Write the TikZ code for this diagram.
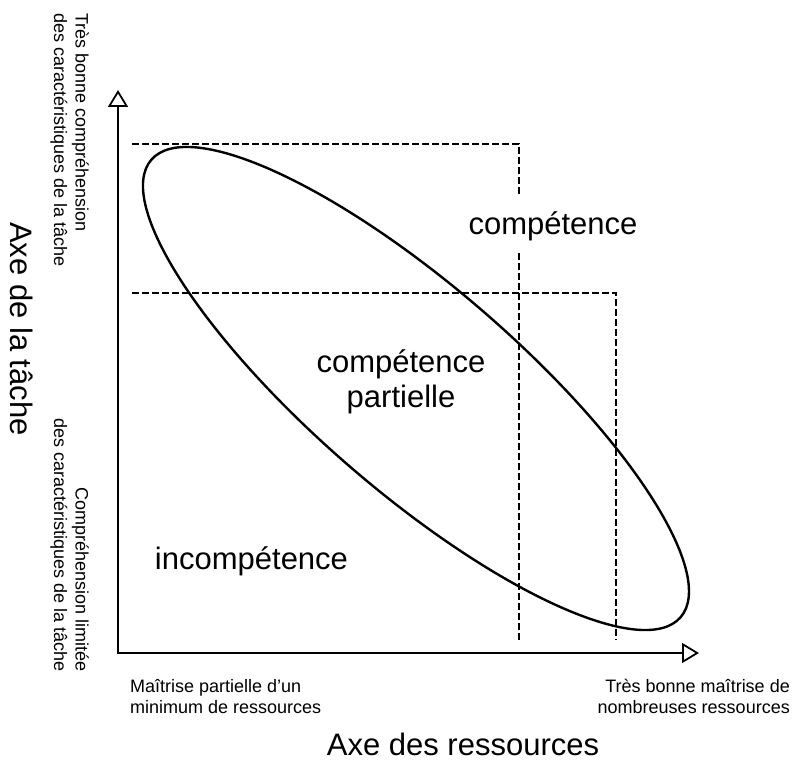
\documentclass[tikz,border=0pt]{standalone}
\usepackage{fontspec}
\setmainfont{Liberation Sans}
\usetikzlibrary{arrows.meta}

\begin{document}
\begin{tikzpicture}[x=1pt, y=1pt,
  axis/.style={line width=2.6pt, {Triangle[open, length=17pt, width=20pt, line width=1.8pt]}-{Triangle[open, length=17pt, width=20pt, line width=1.8pt]}},
  limit/.style={line width=2.4pt, dash pattern=on 7pt off 3pt},
  zone/.style={font=\fontsize{31}{35}\selectfont, inner sep=0pt},
  axistitle/.style={font=\fontsize{31}{35}\selectfont, inner sep=0pt},
  pole/.style={font=\fontsize{18}{21.5}\selectfont, inner sep=0pt}]
\useasboundingbox (0,0) rectangle (796,763);

% axes
\coordinate (origin) at (118,110);
\coordinate (ytop) at (118,673);
\coordinate (xend) at (699,110);
\draw[axis] (ytop) -- (origin) -- (xend);

% limits of the zones
\coordinate (c1) at (132,619);
\coordinate (c2) at (519,619);
\coordinate (c3) at (519,566);
\coordinate (c4) at (519,510);
\coordinate (c5) at (519,123);
\coordinate (p1) at (132,470);
\coordinate (p2) at (616,470);
\coordinate (p3) at (616,123);
\draw[limit] (c1) -- (c2) -- (c3);
\draw[limit] (c4) -- (c5);
\draw[limit] (p1) -- (p2) -- (p3);

% ellipse
\coordinate (mid) at (416,374.5);
\draw[line width=2.4pt, rotate around={-40.84:(mid)}] (mid) ellipse [x radius=349.8, y radius=102.3];

\node[zone, anchor=base] (comp) at (553,528) {compétence};
\node[zone, align=center] (partial) at (401,381) {compétence\\partielle};
\node[zone, anchor=base] (incomp) at (251.5,193) {incompétence};

\node[axistitle, anchor=base] (resaxis) at (463,7) {Axe des ressources};
\node[axistitle, anchor=base, rotate=-90] (taskaxis) at (10,434) {Axe de la tâche};

\node[pole, rotate=-90, anchor=north west, align=left] (tasktop) at (89,750) {Très bonne compréhension\\des caractéristiques de la tâche};
\node[pole, rotate=-90, anchor=north east, align=right] (tasklow) at (89,91) {Compréhension limitée\\des caractéristiques de la tâche};
\node[pole, anchor=north west, align=left] (reslow) at (130,84) {Maîtrise partielle d’un\\minimum de ressources};
\node[pole, anchor=north east, align=right] (restop) at (790,84) {Très bonne maîtrise de\\nombreuses ressources};
\end{tikzpicture}
\end{document}
